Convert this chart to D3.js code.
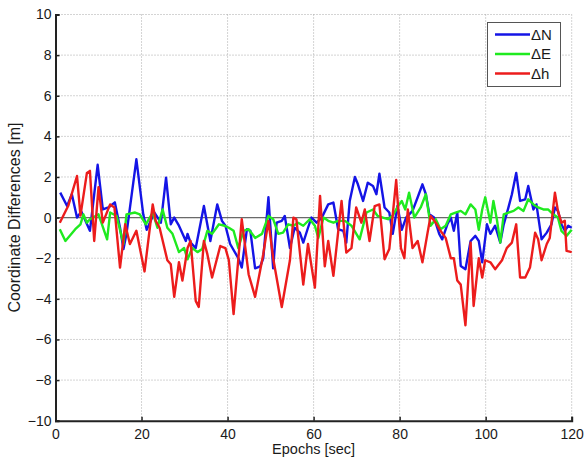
<!DOCTYPE html>
<html>
<head>
<meta charset="utf-8">
<script src="https://cdn.jsdelivr.net/npm/d3@7"></script>
<style>
  body { margin: 0; background: #fff; }
  svg text { font-family: "Liberation Sans", Arial, sans-serif; }
</style>
</head>
<body>
<div id="chart"></div>
<script>
// epochs and values
const epochsN = [1.1,2.7,3.8,5,6,8,9.8,11,12.3,13.8,15,15.8,16.5,18.8,20.4,21.2,23,24.5,25.7,26.8,27.6,28.7,30.3,30.7,31.4,32.6,34.5,36,37.6,38.7,39.5,40.6,42.5,43.3,44.5,45.3,46.4,47.6,48.3,49.5,50.6,51.4,52.6,53.3,54.5,55.6,56.8,57.6,58.7,59.5,60.7,61.9,63.4,64.6,65.7,66.9,67.6,68.4,69.6,70.3,71.5,72.6,73.8,74.6,75.3,76.5,77.6,78.4,79.5,80.5,81.5,83,84.2,85.3,86.1,86.9,88,89.2,89.9,91.1,91.9,92.6,93.4,94.2,95.3,96.5,97.6,98.4,99.2,100.3,101.1,102.2,103.4,104.2,105.3,106.1,107.1,108,109.2,109.9,111.1,111.8,113,114.2,115.3,116.1,116.8,117.6,118.4,119.2,120];
const valuesN = [1.23,0.57,1.15,0,0.3,-0.65,2.6,0.4,0.5,0.75,-0.5,-1.55,-0.8,2.87,0.16,-0.6,0.25,-0.25,1.97,-0.33,0,-0.4,-1.15,-0.8,-1.23,-1.5,0.57,-1.15,0.65,-0.16,-0.4,-1.3,-2,-2.46,-0.57,-0.65,-2.5,-2.4,-2,1.0,-2.5,-0.25,-0.16,0.08,-1.5,-0.5,-0.74,-1.23,-0.5,0,-0.25,0,0.65,0.74,-0.57,-0.65,-1.23,0.82,2,1.64,0.82,1.72,1.56,1.15,2.16,0.5,0.25,-0.8,0.57,-0.6,0,0.33,1.0,1.64,1.15,0.16,0,-0.8,-1.07,-0.33,0,-0.65,0.25,-2.38,-2.54,-1.15,-0.9,-1.15,-2.2,-0.33,-0.8,-0.4,-1.23,-0.33,0.5,1.15,2.2,0.82,0.9,1.56,0.4,0.65,-1.07,-0.74,-0.33,0.5,0.33,-0.33,-0.65,-0.4,-0.5];

const epochsE = [1,2.3,4.6,5.8,6.5,7.3,8,10,12,12.7,14.2,15.8,16.5,18.5,19.6,21,22.6,23.7,24.9,26,27.2,28.7,29.9,30.7,31.8,33,34.1,35.3,36.4,38,39.3,40.3,41.4,42.5,43.7,44.9,46.4,48,49.5,50.6,51.8,52.9,54.1,55.3,56.4,57.6,59.1,60.3,61.1,62.3,63.4,64.6,65.7,67.3,68.8,70.7,72.3,73.8,74.9,76.1,77.3,78.4,79.6,80.5,81.3,82.2,83.4,84.9,86.1,87.2,88.4,89.5,90.7,91.9,93,94.2,95.3,96.5,97.6,98.4,99.2,99.9,101.1,101.8,102.6,103.4,104.2,105.3,106.5,107.6,108.8,109.9,111.1,112.2,113.4,114.5,115.7,116.8,117.6,118.8,120];
const valuesE = [-0.57,-1.15,-0.57,-0.33,0.16,-0.25,-0.08,0.16,-1.07,0.25,0.08,-1.3,0.16,0.25,0.16,-0.33,0.25,-0.5,0.4,-0.5,-0.8,-1.7,-1.5,-2.05,-1.5,-1.7,-1.55,-0.65,-0.8,-0.33,-0.4,-0.5,-0.65,-1.5,-0.65,-0.57,-1,-0.8,0.08,-0.08,-0.8,-0.74,-0.33,-0.4,-0.25,-0.4,-0.08,-0.4,-1,0,-0.16,-0.25,-0.16,-0.16,-0.4,-1.07,0.25,0.4,0.08,0,-0.08,0.1,0.55,0.82,0.4,1.23,0,0.5,1.15,-0.4,-0.08,-0.57,-0.4,0.16,0.25,0.33,0.16,0.65,0.4,-0.6,0.4,1.0,-0.25,0.82,-0.08,-1.23,0.16,0.25,0.33,0.5,0.33,0.9,0.65,0.5,0.4,0.4,0.16,0,-0.65,-0.9,-0.6];

const epochsH = [1,3,5,5.8,7.3,8,9,10,11,12.7,13.7,15,16.2,17.3,18.8,20.7,22.6,23.3,24.2,26,26.8,27.6,28.7,29.5,30.7,31.4,32.6,33.3,34.5,35.3,36.4,38.3,39.5,40.3,41.4,43.3,44.9,46.4,48.3,49.5,50.6,52.6,54.5,55.3,56,57.6,58.7,60.3,61.5,62.6,63.4,64.6,66.5,67.6,68.8,69.9,71.1,71.9,73,74.2,75.3,76.5,77.6,79.2,80.3,81.1,81.9,83,84.2,85.3,86.5,87.2,88.4,89.5,90.7,91.9,92.6,93.4,94.2,95.3,96.5,97.2,98.4,99.2,99.9,101.1,102.2,103.8,104.9,106.1,107.1,108,109.2,110.3,111.5,112.2,113,114.2,114.9,116.1,116.8,117.6,118.4,118.8,120];
const valuesH = [-0.25,0.6,2.05,0.1,2.2,2.3,-1.15,1.5,-0.25,0.65,0.5,-2.46,-0.33,-1.3,-0.65,-2.65,0.65,-0.16,-0.5,-2.1,-2.3,-3.9,-2.2,-3.1,-1.5,-1.15,-4.1,-4.4,-1.15,-1.8,-2.95,-1.4,-1.5,-2.1,-4.75,-0.08,-2.8,-3.9,-1.8,-0.16,-2,-4.4,-2.1,0,-0.08,-3.3,-1.3,-3.45,1.07,-2.4,-1.15,-2.87,0.82,-1.72,-1.5,0.5,-0.25,0.4,-1.15,0.57,0.65,-2.05,-1.55,1.85,-1.5,-2,0.4,-1.5,-1.15,-2.2,-0.74,0.08,-0.25,-0.65,-1,-2,-2,-3.1,-3.3,-5.3,-1.23,-4.35,-2,-2.95,-2.1,-2.2,-2.54,-2.1,-1.5,-1.23,-0.33,-2.95,-2.95,-2.46,-0.74,-1.07,-2.1,-1.3,-1,1.23,0.33,-0.25,-0.16,-1.64,-1.7];

const xTicks = [0, 20, 40, 60, 80, 100, 120];
const yTicks = [-10, -8, -6, -4, -2, 0, 2, 4, 6, 8, 10];
const seriesNames = ["\u0394N", "\u0394E", "\u0394h"];
const seriesColors = ["#1414e6", "#1fea1f", "#ec1c1c"];

const series = [
    { xs: epochsN, ys: valuesN },
    { xs: epochsE, ys: valuesE },
    { xs: epochsH, ys: valuesH },
];
series.forEach((s, i) => {
    if (s.xs.length !== s.ys.length) {
        throw new Error(`series ${i}: ${s.xs.length} epochs vs ${s.ys.length} values`);
    }
});

const width = 585, height = 463;
const plotLeft = 55.5, plotRight = 571.7, plotTop = 14.5, plotBottom = 420.7;
const textColor = "#1a1a1a";

const svg = d3.select("#chart").append("svg")
    .attr("width", width)
    .attr("height", height);

const x = d3.scaleLinear().domain([0, 120]).range([plotLeft, plotRight]);
const y = d3.scaleLinear().domain([-10, 10]).range([plotBottom, plotTop]);

// grid (dotted, MATLAB style)
const grid = svg.append("g")
    .attr("stroke", "#a8a8a8")
    .attr("stroke-width", 1)
    .attr("stroke-dasharray", "1,2");
grid.selectAll("line.gx").data(xTicks.slice(1)).join("line")
    .attr("class", "gx")
    .attr("x1", d => x(d)).attr("x2", d => x(d))
    .attr("y1", plotTop).attr("y2", plotBottom);
grid.selectAll("line.gy").data(yTicks.slice(1)).join("line")
    .attr("class", "gy")
    .attr("x1", plotLeft).attr("x2", plotRight)
    .attr("y1", d => y(d)).attr("y2", d => y(d));

// zero line
svg.append("line")
    .attr("x1", plotLeft).attr("x2", plotRight)
    .attr("y1", y(0)).attr("y2", y(0))
    .attr("stroke", "#6a6a6a")
    .attr("stroke-width", 1.2);

// series
const line = d3.line().x(d => x(d[0])).y(d => y(d[1]));
series.forEach((s, i) => {
    svg.append("path")
        .datum(d3.zip(s.xs, s.ys))
        .attr("fill", "none")
        .attr("stroke", seriesColors[i])
        .attr("stroke-width", 2.4)
        .attr("stroke-linejoin", "round")
        .attr("d", line);
});

// axes
const xAxis = d3.axisBottom(x).tickValues(xTicks).tickSize(-4).tickPadding(8);
const yAxis = d3.axisLeft(y).tickValues(yTicks).tickSize(-4).tickPadding(4);

const gx = svg.append("g")
    .attr("transform", `translate(0,${plotBottom})`)
    .call(xAxis);
const gy = svg.append("g")
    .attr("transform", `translate(${plotLeft},0)`)
    .call(yAxis);

[gx, gy].forEach(g => {
    g.select(".domain").attr("stroke", "#222").attr("stroke-width", 2);
    g.selectAll(".tick line").attr("stroke", "#222").attr("stroke-width", 1.5);
    g.selectAll("text")
        .attr("fill", textColor)
        .style("font-size", "14px");
});

svg.append("text")
    .attr("x", (plotLeft + plotRight) / 2)
    .attr("y", 454)
    .attr("text-anchor", "middle")
    .attr("fill", textColor)
    .style("font-size", "14.5px")
    .text("Epochs [sec]");

svg.append("text")
    .attr("transform", `translate(20,${(plotTop + plotBottom) / 2}) rotate(-90)`)
    .attr("text-anchor", "middle")
    .attr("fill", textColor)
    .style("font-size", "16px")
    .text("Coordinate Differences [m]");

// legend
const legend = svg.append("g");
legend.append("rect")
    .attr("x", 487.5).attr("y", 22.5)
    .attr("width", 73).attr("height", 64)
    .attr("fill", "#fff")
    .attr("stroke", "#555")
    .attr("stroke-width", 1);
seriesNames.forEach((name, i) => {
    const ly = 34.5 + i * 19.5;
    legend.append("line")
        .attr("x1", 495).attr("x2", 530)
        .attr("y1", ly).attr("y2", ly)
        .attr("stroke", seriesColors[i])
        .attr("stroke-width", 2.3);
    legend.append("text")
        .attr("x", 531).attr("y", ly)
        .attr("dy", "0.36em")
        .attr("fill", textColor)
        .style("font-size", "15px")
        .text(name);
});
</script>
</body>
</html>
